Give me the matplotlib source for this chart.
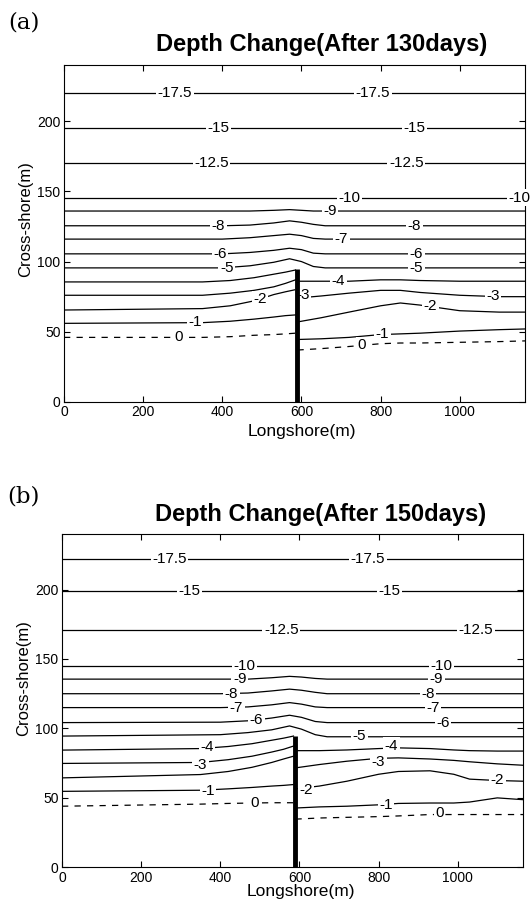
import matplotlib
matplotlib.use("Agg")
import matplotlib.pyplot as plt

plt.rcParams["font.family"] = ["Liberation Sans", "DejaVu Sans"]

# --- panel (a): after 130 days ---
a_flat_levels = ["-17.5", "-15", "-12.5", "-10"]
a_flat_y = [220, 195, 170, 145.5]

a_x_cross = [0, 400, 470, 530, 570, 600, 630, 660, 1165]
a_m9 = [136, 136, 136, 136.5, 137, 136.5, 136, 136, 136]
a_m8 = [125.5, 125.5, 126, 127.5, 129, 128, 126.5, 125.5, 125.5]
a_m7 = [116, 116, 117, 118.5, 119.5, 118.5, 116.5, 116, 116]
a_m6 = [105.5, 105.5, 106.5, 108, 109.5, 108.5, 106, 105.5, 105.5]
a_m5 = [95.5, 95.5, 97, 99.5, 102, 100, 96.5, 95.5, 95.5]

a_x_left = [0, 350, 420, 480, 530, 560, 585]
a_m4_left = [85.5, 85.5, 86.5, 88.5, 91, 92.5, 94]
a_m3_left = [76, 76, 77.5, 79.5, 82, 84.5, 87]
a_m2_left = [65.5, 66.5, 68.5, 72, 76.5, 78.5, 80]
a_m1_left = [56, 56.5, 57.5, 59, 60.5, 61.5, 62]
a_0_left = [46, 46, 46.5, 47.5, 48, 48.5, 49]

a_x_right = [590, 650, 720, 800, 850, 900, 1000, 1100, 1165]
a_m4_right = [86, 86, 86, 87, 87, 86.5, 86, 86, 86]
a_m3_right = [74, 75.5, 77.5, 79.5, 79.5, 78, 76, 75, 75]
a_m2_right = [57, 60, 64, 68.5, 70.5, 69, 65, 64, 64]
a_m1_right = [44.5, 45, 46, 48, 48.5, 49, 50.5, 51.5, 52]
a_0_right = [37, 38, 39.5, 41.5, 42, 42, 42.5, 43, 43.5]

a_lab_txt = ["-17.5", "-17.5", "-15", "-15", "-12.5", "-12.5", "-10", "-10", "-9",
             "-8", "-8", "-7", "-6", "-6", "-5", "-5", "-4", "-3", "-3",
             "-2", "-2", "-1", "-1", "0", "0"]
a_lab_x = [280, 781, 390, 886, 373, 865, 722, 1150, 672,
           390, 886, 701, 394, 891, 411, 891, 693, 604, 1084,
           495, 926, 331, 805, 289, 752]
a_lab_y = [220, 220, 195, 195, 170, 170, 145.5, 145.5, 136,
           125.5, 125.5, 116, 105.5, 105.5, 95.5, 95.5, 86, 76, 75.5,
           73, 68, 57, 48.5, 46.5, 40.5]
a_groin_top = 95

# --- panel (b): after 150 days ---
b_flat_levels = ["-17.5", "-15", "-12.5", "-10"]
b_flat_y = [222, 199, 171, 145]

b_x_cross = [0, 400, 470, 530, 575, 605, 640, 670, 1165]
b_m9 = [135.5, 135.5, 135.5, 136.5, 137.5, 137, 136, 135.5, 135.5]
b_m8 = [125, 125, 125.5, 127, 128.3, 127.5, 126, 125, 125]
b_m7 = [115, 115, 115.5, 117, 118.6, 117.5, 115.5, 115, 115]
b_m6 = [104.2, 104.5, 105.5, 107.5, 109.5, 108, 105, 104.2, 104.2]
b_m5 = [94.5, 95.5, 97, 99, 101.8, 99.5, 95.5, 94, 94]

b_x_left = [0, 350, 420, 480, 530, 560, 585]
b_m4_left = [84.4, 85.5, 87, 89, 91.5, 93, 94.5]
b_m3_left = [74.8, 75.5, 77.5, 80, 83, 85, 87.3]
b_m2_left = [64.4, 66.8, 69, 72, 75.5, 78, 80]
b_m1_left = [54.7, 55.5, 56.5, 57.5, 58.5, 59, 59.6]
b_0_left = [44, 45.5, 46, 46.3, 46.5, 46.5, 46.5]

b_x_right = [590, 650, 720, 800, 850, 930, 990, 1030, 1100, 1165]
b_m4_right = [84, 84, 84.5, 85.5, 86, 85.5, 84.5, 84, 83.7, 83.7]
b_m3_right = [71.6, 74, 76.4, 78.5, 78.8, 78, 77, 76, 74.5, 73.5]
b_m2_right = [56.5, 58.5, 62, 67, 69, 69.5, 67, 63.5, 62.5, 62]
b_m1_right = [42.7, 43.5, 44, 45, 46, 46.3, 46.3, 47, 50, 48.7]
b_0_right = [34.7, 35.5, 36, 36.5, 37, 38, 38, 38, 38, 38]

b_lab_txt = ["-17.5", "-17.5", "-15", "-15", "-12.5", "-12.5", "-10", "-10",
             "-9", "-9", "-8", "-8", "-7", "-7", "-6", "-6", "-5",
             "-4", "-4", "-3", "-3", "-2", "-2", "-1", "-1", "0", "0"]
b_lab_x = [272, 773, 323, 828, 554, 1046, 462, 958,
           449, 946, 428, 925, 441, 938, 491, 963, 752,
           366, 832, 350, 800, 617, 1100, 369, 819, 487, 954]
b_lab_y = [222, 222, 199, 199, 171, 171, 145, 145,
           135.5, 135.5, 125, 125, 115, 115, 106, 104.2, 94.5,
           86.5, 87.5, 74, 75.5, 56, 63, 55, 45, 46.5, 39]
b_groin_top = 94.5

groin_x = 588
xticks = [0, 200, 400, 600, 800, 1000]
yticks = [0, 50, 100, 150, 200]


def draw_panel(ax, flat_y, x_cross, cross, x_left, left, x_right, right,
               lab_txt, lab_x, lab_y, groin_top, xlab_pos, ylab_pos):
    for y in flat_y:
        ax.plot([0, 1165], [y, y], color="black", lw=0.9)
    for ys in cross:
        ax.plot(x_cross, ys, color="black", lw=0.9)
    for i, ys in enumerate(left):
        ls = (0, (5, 5)) if i == len(left) - 1 else "-"
        ax.plot(x_left, ys, color="black", lw=0.9, linestyle=ls)
    for i, ys in enumerate(right):
        ls = (0, (5, 5)) if i == len(right) - 1 else "-"
        ax.plot(x_right, ys, color="black", lw=0.9, linestyle=ls)
    for t, x, y in zip(lab_txt, lab_x, lab_y):
        ax.text(x, y, t, fontsize=11, ha="center", va="center", zorder=3,
                bbox=dict(boxstyle="square,pad=0.1", fc="white", ec="none"))
    ax.plot([groin_x, groin_x], [0, groin_top], color="black", lw=3.5,
            solid_capstyle="butt", zorder=5)
    ax.set_xlim(0, 1165)
    ax.set_ylim(0, 240)
    ax.set_xticks(xticks)
    ax.set_yticks(yticks)
    ax.tick_params(direction="in", length=4, top=True, right=True,
                   labelsize=10, pad=2.5)
    ax.set_xlabel("Longshore(m)", fontsize=12.5)
    ax.set_ylabel("Cross-shore(m)", fontsize=12)
    ax.xaxis.set_label_coords(*xlab_pos)
    ax.yaxis.set_label_coords(*ylab_pos)
    for s in ax.spines.values():
        s.set_linewidth(0.8)


fig = plt.figure(figsize=(5.3, 9.08), dpi=100)

ax1 = fig.add_axes([0.1208, 0.5573, 0.8698, 0.3711])
draw_panel(ax1, a_flat_y, a_x_cross, [a_m9, a_m8, a_m7, a_m6, a_m5],
           a_x_left, [a_m4_left, a_m3_left, a_m2_left, a_m1_left, a_0_left],
           a_x_right, [a_m4_right, a_m3_right, a_m2_right, a_m1_right, a_0_right],
           a_lab_txt, a_lab_x, a_lab_y, a_groin_top,
           (0.516, -0.065), (-0.067, 0.543))

ax2 = fig.add_axes([0.117, 0.0448, 0.8698, 0.3671])
draw_panel(ax2, b_flat_y, b_x_cross, [b_m9, b_m8, b_m7, b_m6, b_m5],
           b_x_left, [b_m4_left, b_m3_left, b_m2_left, b_m1_left, b_0_left],
           b_x_right, [b_m4_right, b_m3_right, b_m2_right, b_m1_right, b_0_right],
           b_lab_txt, b_lab_x, b_lab_y, b_groin_top,
           (0.518, -0.05), (-0.067, 0.569))

fig.text(322 / 530, 1 - 45 / 908, "Depth Change(After 130days)", fontsize=17,
         fontweight="bold", ha="center", va="center")
fig.text(321 / 530, 1 - 515 / 908, "Depth Change(After 150days)", fontsize=17,
         fontweight="bold", ha="center", va="center")
fig.text(8 / 530, 1 - 22 / 908, "(a)", fontsize=16.5, family="DejaVu Serif",
         ha="left", va="center")
fig.text(7 / 530, 1 - 496 / 908, "(b)", fontsize=16.5, family="DejaVu Serif",
         ha="left", va="center")

fig.savefig("out.png", dpi=100)
